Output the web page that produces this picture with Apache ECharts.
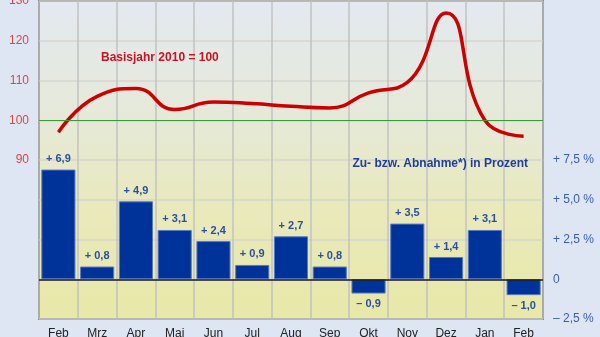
<!DOCTYPE html>
<html>
<head>
<meta charset="utf-8">
<script src="https://cdn.jsdelivr.net/npm/echarts@6/dist/echarts.min.js"></script>
<style>
  html, body { margin: 0; padding: 0; background: #dde6f2; }
  #chart { width: 600px; height: 337px; }
</style>
</head>
<body>
<div id="chart"></div>
<script>
// Monate (Feb bis Feb des Folgejahres)
const months = ['Feb', 'Mrz', 'Apr', 'Mai', 'Jun', 'Jul', 'Aug', 'Sep', 'Okt', 'Nov', 'Dez', 'Jan', 'Feb'];
// Indexwerte, Basisjahr 2010 = 100
const indexValues = [97, 106, 108, 102.7, 104.6, 104.2, 103.5, 103.1, 106.9, 109.5, 127, 100, 96];
// Veränderung gegenüber Vorjahresmonat in Prozent
const changePct = [6.9, 0.8, 4.9, 3.1, 2.4, 0.9, 2.7, 0.8, -0.9, 3.5, 1.4, 3.1, -1.0];
// Beschriftete Skalenwerte
const leftTicks = [90, 100, 110, 120, 130];
const rightTicks = [-2.5, 0, 2.5, 5, 7.5];

function fmtPct(v) {
  const s = Math.abs(v).toFixed(1).replace('.', ',');
  if (v > 0) return '+ ' + s;
  if (v < 0) return '\u2013 ' + s;
  return '0';
}

const chart = echarts.init(document.getElementById('chart'), null, { renderer: 'canvas' });

chart.setOption({
  backgroundColor: '#dde6f2',
  animation: false,
  title: [
    {
      text: 'Basisjahr 2010 = 100',
      left: 101, top: 52, padding: 0,
      textStyle: { color: '#cc1122', fontSize: 12, fontWeight: 'bold', fontFamily: 'Liberation Sans, Arial, sans-serif' }
    },
    {
      text: 'Zu- bzw. Abnahme*) in Prozent',
      right: 72, top: 158, padding: 0,
      textStyle: { color: '#1f3d99', fontSize: 12, fontWeight: 'bold', fontFamily: 'Liberation Sans, Arial, sans-serif' }
    }
  ],
  grid: {
    left: 39, right: 57, top: 1, bottom: 18,
    containLabel: false,
    outerBoundsMode: 'none',
    show: true,
    borderColor: '#3c3c3c',
    borderWidth: 1.5,
    backgroundColor: new echarts.graphic.LinearGradient(0, 0, 0, 1, [
      { offset: 0, color: '#e3e9f0' },
      { offset: 0.35, color: '#e6e9da' },
      { offset: 0.65, color: '#e9e9bc' },
      { offset: 1, color: '#e8e8a8' }
    ])
  },
  xAxis: {
    type: 'category',
    data: months,
    boundaryGap: true,
    axisLine: { show: false },
    axisTick: { show: false },
    splitLine: { show: true, lineStyle: { color: '#c2c2c2', width: 1.5 } },
    axisLabel: {
      color: '#222', fontSize: 12, margin: 9,
      fontFamily: 'Liberation Sans, Arial, sans-serif'
    }
  },
  yAxis: [
    {
      type: 'value',
      min: 50, max: 130, interval: 10,
      axisLine: { show: false },
      axisTick: { show: false },
      splitLine: { show: true, lineStyle: { color: '#d4d4cc', width: 1.5 } },
      axisLabel: {
        color: '#e04440', fontSize: 12, margin: 10,
        fontFamily: 'Liberation Sans, Arial, sans-serif',
        formatter: v => leftTicks.includes(v) ? String(v) : ''
      }
    },
    {
      type: 'value',
      min: -2.5, max: 17.5, interval: 2.5,
      position: 'right',
      axisLine: { show: false },
      axisTick: { show: false },
      splitLine: { show: false },
      axisLabel: {
        color: '#3a5cbc', fontSize: 12, margin: 10,
        fontFamily: 'Liberation Sans, Arial, sans-serif',
        formatter: v => rightTicks.includes(v) ? (v === 0 ? '0' : fmtPct(v) + ' %') : ''
      }
    }
  ],
  series: [
    {
      type: 'bar',
      yAxisIndex: 1,
      data: changePct.map(v => ({
        value: v,
        label: {
          show: true,
          position: v >= 0 ? 'top' : 'bottom',
          distance: 5,
          formatter: fmtPct(v),
          color: '#2a4ea6',
          fontSize: 11,
          fontWeight: 'bold',
          fontFamily: 'Liberation Sans, Arial, sans-serif'
        }
      })),
      barCategoryGap: '12%',
      itemStyle: { color: '#003399', borderColor: '#5a78c4', borderWidth: 1 },
      markLine: {
        silent: true,
        symbol: 'none',
        label: { show: false },
        lineStyle: { color: '#1a1a1a', width: 1.5, type: 'solid' },
        data: [{ yAxis: 0 }]
      },
      z: 2
    },
    {
      type: 'line',
      yAxisIndex: 0,
      data: indexValues,
      smooth: 0.5,
      symbol: 'none',
      lineStyle: { color: '#cc0000', width: 3.5 },
      markLine: {
        silent: true,
        symbol: 'none',
        label: { show: false },
        lineStyle: { color: '#3c9a3c', width: 1.2, type: 'solid' },
        data: [{ yAxis: 100 }]
      },
      z: 3
    }
  ]
});
</script>
</body>
</html>
